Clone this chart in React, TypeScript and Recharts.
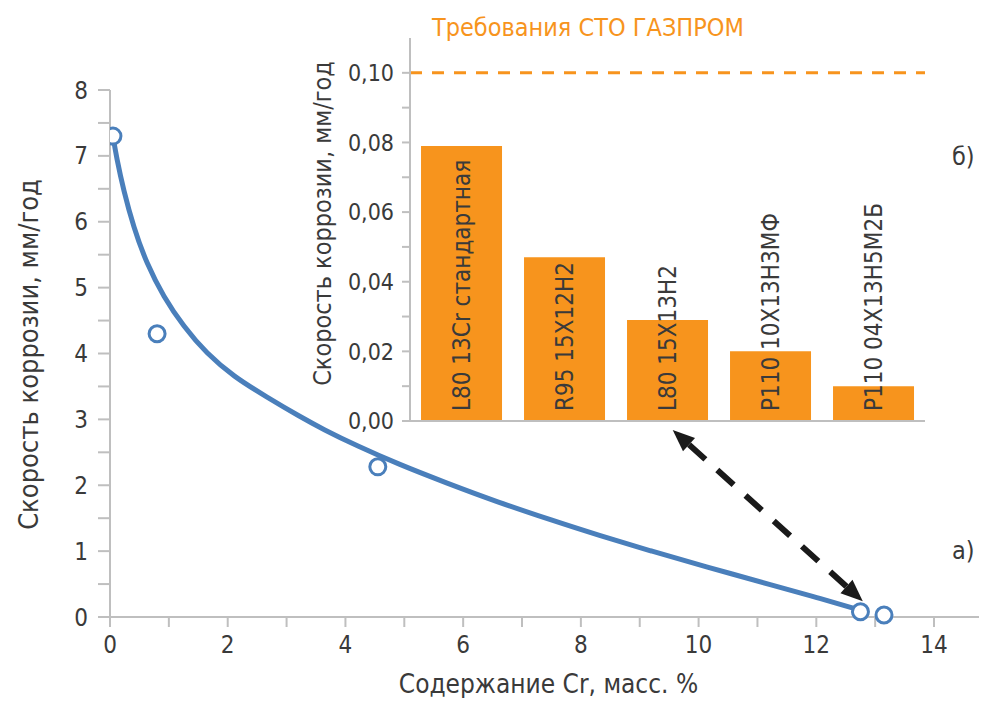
import React from "react";
import {
  ComposedChart,
  BarChart,
  Bar,
  Line,
  Scatter,
  XAxis,
  YAxis,
  ReferenceLine,
  LabelList,
  Label,
} from "recharts";

const FONT = "'Liberation Sans Narrow', 'DejaVu Sans Condensed', 'Open Sans', sans-serif";
const TEXT = "#3a3a3a";
const AXIS = "#bfbfbf";
const BLUE = "#4a7fbb";
const ORANGE = "#f7941d";

// (a) measured corrosion rate vs chromium content
const crContent = [0.05, 0.8, 4.55, 12.75, 13.15];
const corrosionRate = [7.3, 4.3, 2.28, 0.08, 0.03];

// trend curve
const fitCr = [0.05, 0.11, 0.23, 0.4, 0.62, 0.91, 1.25, 1.64, 2.1, 2.66, 3.23, 3.62, 4.19, 4.9, 5.7, 6.6, 7.5, 8.3, 9.2, 10.1, 11.3, 12.0, 12.75];
const fitRate = [7.3, 6.98, 6.48, 5.92, 5.37, 4.86, 4.41, 4.0, 3.65, 3.34, 3.04, 2.85, 2.6, 2.32, 2.04, 1.74, 1.47, 1.24, 1.0, 0.77, 0.47, 0.3, 0.1];

const xTicks = [0, 1, 2, 3, 4, 5, 6, 7, 8, 9, 10, 11, 12, 13, 14];
const yTicks = [0, 0.5, 1, 1.5, 2, 2.5, 3, 3.5, 4, 4.5, 5, 5.5, 6, 6.5, 7, 7.5, 8];

// (б) steel grades vs Gazprom requirement
const steelGrades = [
  "L80 13Cr стандартная",
  "R95 15Х12Н2",
  "L80 15Х13Н2",
  "P110 10Х13Н3МФ",
  "P110 04Х13Н5М2Б",
];
const steelRates = [0.079, 0.047, 0.029, 0.02, 0.01];
const gazpromLimit = 0.1;
const insetTicks = [0, 0.01, 0.02, 0.03, 0.04, 0.05, 0.06, 0.07, 0.08, 0.09, 0.1];

// arrow from the inset to the 13% Cr points
const arrowFrom = { x: 9.56, y: 2.84 };
const arrowTo = { x: 12.79, y: 0.24 };

const points = crContent.map((x, i) => ({ x, y: corrosionRate[i] }));
const curve = fitCr.map((x, i) => ({ x, y: fitRate[i] }));
const bars = steelGrades.map((name, i) => ({ name, rate: steelRates[i] }));

function HollowDot(props: any) {
  const { cx, cy } = props;
  return <circle cx={cx} cy={cy} r={8} fill="#fff" stroke={BLUE} strokeWidth={3} />;
}

function DashedArrow(props: any) {
  const { x1, y1, x2, y2 } = props;
  const ang = Math.atan2(y2 - y1, x2 - x1);
  const head = 22;
  const half = 9;
  const tri = (tx: number, ty: number, a: number) => {
    const bx = tx - head * Math.cos(a);
    const by = ty - head * Math.sin(a);
    const px = -Math.sin(a) * half;
    const py = Math.cos(a) * half;
    return `${tx},${ty} ${bx + px},${by + py} ${bx - px},${by - py}`;
  };
  return (
    <g>
      <line
        x1={x1 + head * Math.cos(ang)}
        y1={y1 + head * Math.sin(ang)}
        x2={x2 - head * Math.cos(ang)}
        y2={y2 - head * Math.sin(ang)}
        stroke="#1a1a1a"
        strokeWidth={6}
        strokeDasharray="22 16"
      />
      <polygon points={tri(x1, y1, ang + Math.PI)} fill="#1a1a1a" />
      <polygon points={tri(x2, y2, ang)} fill="#1a1a1a" />
    </g>
  );
}

function GradeLabel(props: any) {
  const { x, y, width, height, value } = props;
  const cx = x + width / 2;
  const by = y + height - 10;
  return (
    <text
      x={cx}
      y={by}
      transform={`rotate(-90 ${cx} ${by})`}
      dominantBaseline="central"
      fontSize={24}
      fontFamily={FONT}
      fill={TEXT}
    >
      {value}
    </text>
  );
}

export default function App() {
  const tickStyle = { fontSize: 24, fill: TEXT, fontFamily: FONT };
  return (
    <div style={{ position: "relative", width: 987, height: 706, margin: -8, background: "#fff" }}>
      <ComposedChart
        width={987}
        height={706}
        margin={{ top: 90, right: 0, bottom: 0, left: 0 }}
        style={{ position: "absolute", left: 0, top: 0 }}
      >
        <XAxis
          type="number"
          dataKey="x"
          domain={[0, 14.9]}
          ticks={xTicks}
          allowDataOverflow
          tickFormatter={(v: number) => (v % 2 === 0 ? String(v) : "")}
          tick={tickStyle}
          tickSize={10}
          tickMargin={9}
          height={89}
          axisLine={{ stroke: AXIS, strokeWidth: 2 }}
          tickLine={{ stroke: AXIS, strokeWidth: 2 }}
        >
          <Label
            value="Содержание Cr, масс. %"
            position="insideBottom"
            offset={13}
            style={{ fontSize: 26, fill: TEXT, fontFamily: FONT }}
          />
        </XAxis>
        <YAxis
          type="number"
          dataKey="y"
          domain={[0, 8]}
          ticks={yTicks}
          tickFormatter={(v: number) => (Number.isInteger(v) ? String(v) : "")}
          tick={tickStyle}
          tickSize={12}
          tickMargin={10}
          width={110}
          axisLine={{ stroke: AXIS, strokeWidth: 2 }}
          tickLine={{ stroke: AXIS, strokeWidth: 2 }}
        >
          <Label
            value="Скорость коррозии, мм/год"
            angle={-90}
            position="center"
            dx={-27}
            dy={1}
            style={{ fontSize: 27, fill: TEXT, fontFamily: FONT, textAnchor: "middle" }}
          />
        </YAxis>
        <Line
          data={curve}
          dataKey="y"
          type="basis"
          stroke={BLUE}
          strokeWidth={5}
          dot={false}
          isAnimationActive={false}
        />
        <Scatter data={points} dataKey="y" shape={<HollowDot />} isAnimationActive={false} />
        <ReferenceLine
          segment={[arrowFrom, arrowTo]}
          shape={(p: any) => <DashedArrow {...p} />}
        />
      </ComposedChart>

      <BarChart
        width={640}
        height={440}
        data={bars}
        margin={{ top: 38, right: 15, bottom: 0, left: 0 }}
        barCategoryGap="10.7%"
        style={{ position: "absolute", left: 300, top: 0 }}
      >
        <XAxis
          dataKey="name"
          tick={false}
          tickLine={false}
          height={19}
          axisLine={{ stroke: AXIS, strokeWidth: 2 }}
        />
        <YAxis
          type="number"
          domain={[0, 0.11]}
          ticks={insetTicks}
          allowDataOverflow
          tickFormatter={(v: number) =>
            Math.round(v * 100) % 2 === 0 ? v.toFixed(2).replace(".", ",") : ""
          }
          tick={{ fontSize: 23, fill: TEXT, fontFamily: FONT }}
          tickSize={8}
          tickMargin={8}
          width={110}
          axisLine={{ stroke: AXIS, strokeWidth: 2 }}
          tickLine={{ stroke: AXIS, strokeWidth: 2 }}
        >
          <Label
            value="Скорость коррозии, мм/год"
            angle={-90}
            position="center"
            dx={-33}
            dy={-6}
            style={{ fontSize: 25, fill: TEXT, fontFamily: FONT, textAnchor: "middle" }}
          />
        </YAxis>
        <ReferenceLine
          y={gazpromLimit}
          stroke={ORANGE}
          strokeWidth={3}
          strokeDasharray="12 10"
          label={(p: any) => (
            <text
              x={p.viewBox.x + 22}
              y={p.viewBox.y - 37}
              fontSize={25}
              fontFamily={FONT}
              fill={ORANGE}
            >
              Требования СТО ГАЗПРОМ
            </text>
          )}
        />
        <Bar dataKey="rate" fill={ORANGE} isAnimationActive={false}>
          <LabelList dataKey="name" content={<GradeLabel />} />
        </Bar>
      </BarChart>

      <div style={{ position: "absolute", left: 952, top: 142, fontSize: 25, color: TEXT, fontFamily: FONT }}>
        б)
      </div>
      <div style={{ position: "absolute", left: 952, top: 536, fontSize: 25, color: TEXT, fontFamily: FONT }}>
        а)
      </div>
    </div>
  );
}
